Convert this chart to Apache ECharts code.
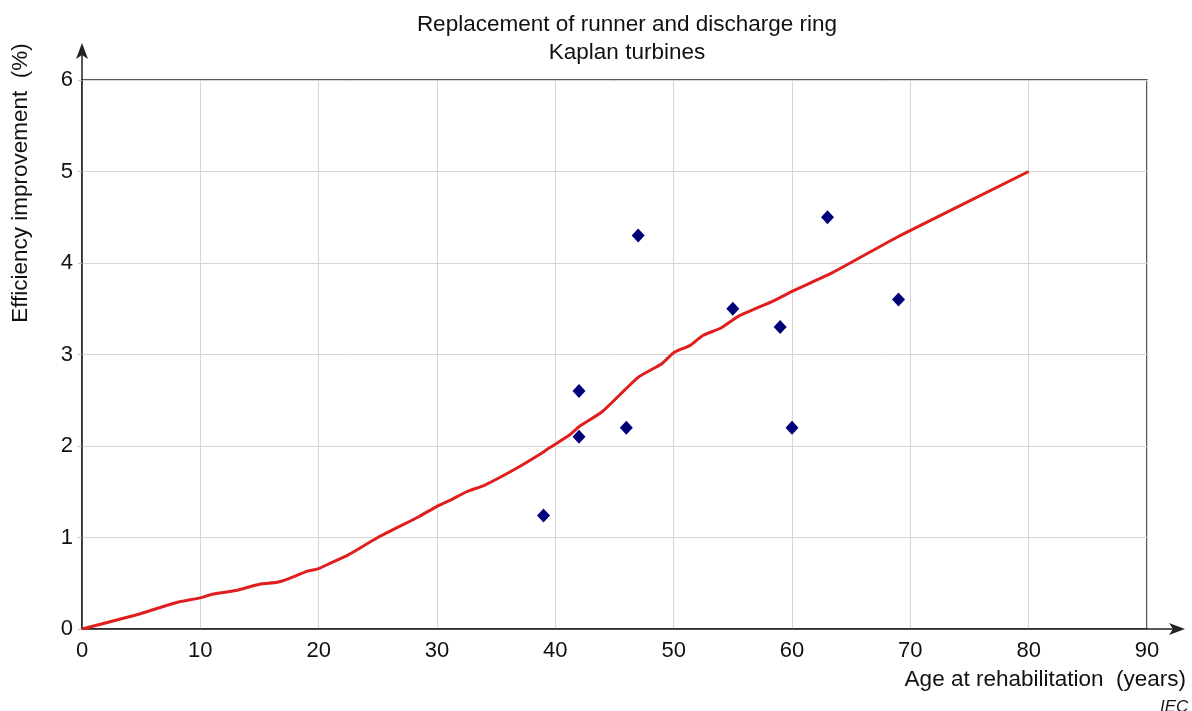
<!DOCTYPE html>
<html>
<head>
<meta charset="utf-8">
<script src="https://cdn.jsdelivr.net/npm/echarts@6/dist/echarts.min.js"></script>
<style>
  html, body { margin: 0; padding: 0; background: #fff; }
  #chart { width: 1192px; height: 711px; }
</style>
</head>
<body>
<div id="chart"></div>
<script>
// age at rehabilitation (years) / efficiency improvement (%)
const trendAges = [0, 5, 8, 10, 11, 13, 15, 16.5, 17.5, 19, 20, 21, 22.5, 25, 28.5, 30, 31, 32.5, 34, 36.5, 38.7, 39.5, 41.2, 42, 44, 47, 49, 50, 51.4, 52.5, 54, 55.5, 58.5, 60, 63.5, 69, 80];
const trendValues = [0, 0.17, 0.29, 0.34, 0.38, 0.42, 0.49, 0.51, 0.55, 0.63, 0.66, 0.72, 0.81, 1.0, 1.23, 1.34, 1.4, 1.5, 1.57, 1.74, 1.91, 1.98, 2.12, 2.21, 2.38, 2.75, 2.9, 3.02, 3.1, 3.21, 3.29, 3.42, 3.59, 3.69, 3.9, 4.29, 5.0];
const plantAges = [39, 42, 42, 46, 47, 55, 59, 60, 63, 69];
const plantValues = [1.24, 2.6, 2.1, 2.2, 4.3, 3.5, 3.3, 2.2, 4.5, 3.6];

const titleLines = ["Replacement of runner and discharge ring", "Kaplan turbines"];
const xName = "Age at rehabilitation  (years)";
const yName = "Efficiency improvement  (%)";

const font = "'Liberation Sans', Arial, sans-serif";
const chart = echarts.init(document.getElementById("chart"));

const option = {
    animation: false,
    textStyle: { fontFamily: font },
    title: {
        text: titleLines.join("\n"),
        left: 622,
        textAlign: "center",
        top: 6,
        textStyle: { fontSize: 22.5, fontWeight: "normal", color: "#111", lineHeight: 28, fontFamily: font }
    },
    grid: {
        left: 82, right: 45, top: 80, bottom: 82,
        show: true, borderColor: "#222", borderWidth: 1.5, backgroundColor: "transparent"
    },
    xAxis: {
        type: "value", min: 0, max: 90, interval: 10,
        axisLine: {
            lineStyle: { color: "#222", width: 1.5 },
            symbol: ["none", "arrow"], symbolSize: [9, 16], symbolOffset: [0, 38]
        },
        axisTick: { show: false },
        axisLabel: { fontSize: 22, color: "#111", margin: 11, fontFamily: font },
        splitLine: { lineStyle: { color: "#d6d6d6", width: 1 } }
    },
    yAxis: {
        type: "value", min: 0, max: 6, interval: 1,
        axisLine: {
            show: true,
            lineStyle: { color: "#222", width: 1.5 },
            symbol: ["none", "arrow"], symbolSize: [9, 16], symbolOffset: [0, 37]
        },
        axisTick: { show: true, length: 4, lineStyle: { color: "#bbb" } },
        axisLabel: { fontSize: 22, color: "#111", margin: 9, fontFamily: font },
        splitLine: { lineStyle: { color: "#d6d6d6", width: 1 } }
    },
    series: [
        {
            name: "trend",
            type: "line",
            data: trendAges.map((a, i) => [a, trendValues[i]]),
            showSymbol: false,
            smooth: 0.2,
            lineStyle: { color: "#e01e1e", width: 3 },
            z: 3
        },
        {
            name: "plants",
            type: "scatter",
            data: plantAges.map((a, i) => [a, plantValues[i]]),
            symbol: "diamond",
            symbolSize: [13, 14],
            itemStyle: { color: "#00007a", opacity: 1 },
            z: 4
        }
    ]
};
chart.setOption(option);

// axis extensions up to the arrow heads, and the axis names
const xEnd = chart.convertToPixel({ gridIndex: 0 }, [90, 0]);
const yEnd = chart.convertToPixel({ gridIndex: 0 }, [0, 6]);
chart.setOption({
    graphic: [
        { type: "line", shape: { x1: xEnd[0], y1: xEnd[1], x2: xEnd[0] + 34, y2: xEnd[1] }, style: { stroke: "#222", lineWidth: 1.5 } },
        { type: "line", shape: { x1: yEnd[0], y1: yEnd[1], x2: yEnd[0], y2: yEnd[1] - 33 }, style: { stroke: "#222", lineWidth: 1.5 } },
        {
            type: "text", x: 1186, y: 668,
            style: { text: xName, fontSize: 22.5, fill: "#111", align: "right", fontFamily: font }
        },
        {
            type: "text", x: 21, y: 183, rotation: Math.PI / 2,
            style: { text: yName, fontSize: 22.5, fill: "#111", align: "center", verticalAlign: "middle", fontFamily: font }
        },
        {
            type: "text", x: 1160, y: 699,
            style: { text: "IEC", fontSize: 17, fill: "#111", fontStyle: "italic", fontFamily: font }
        }
    ]
});
</script>
</body>
</html>
